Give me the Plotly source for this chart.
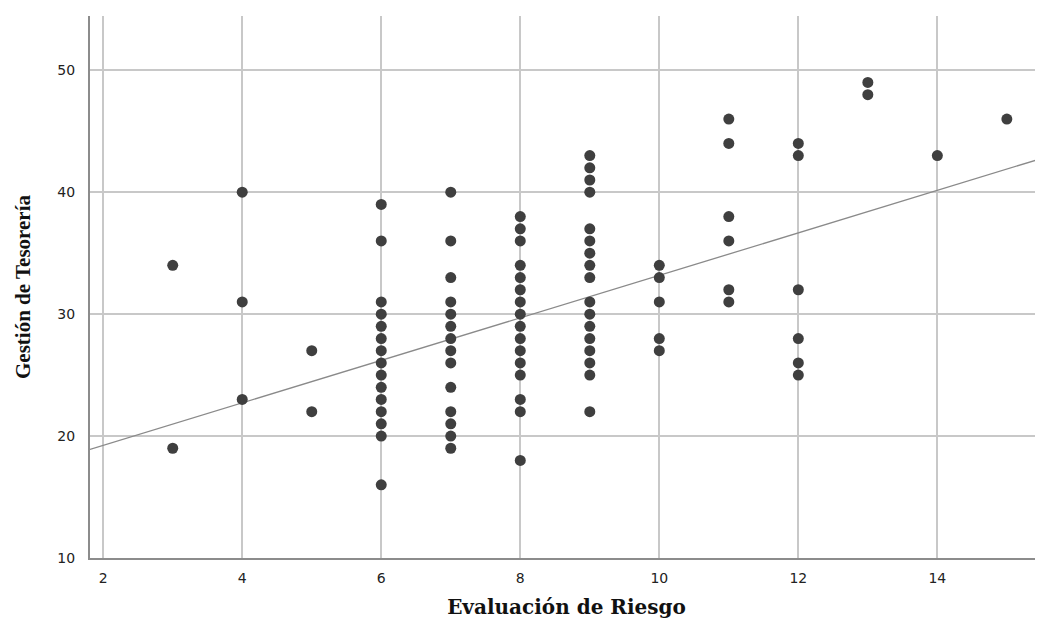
import plotly.graph_objects as go

# Data (Evaluación de Riesgo vs Gestión de Tesorería)
x_levels = [3, 4, 5, 6, 7, 8, 9, 10, 11, 12, 13, 14, 15]
y_groups = [
    [34, 19],
    [40, 31, 23],
    [27, 22],
    [39, 36, 31, 30, 29, 28, 27, 26, 25, 24, 23, 22, 21, 20, 16],
    [40, 36, 33, 31, 30, 29, 28, 27, 26, 24, 22, 21, 20, 19],
    [38, 37, 36, 34, 33, 32, 31, 30, 29, 28, 27, 26, 25, 23, 22, 18],
    [43, 42, 41, 40, 37, 36, 35, 34, 33, 31, 30, 29, 28, 27, 26, 25, 22],
    [34, 33, 31, 28, 27],
    [46, 44, 38, 36, 32, 31],
    [44, 43, 32, 28, 26, 25],
    [49, 48],
    [43],
    [46],
]
# Fit line as drawn in the reference
fit_intercept = 15.75
fit_slope = 1.743

x_ticks = [2, 4, 6, 8, 10, 12, 14]
y_ticks = [10, 20, 30, 40, 50]
x_title = "Evaluación de Riesgo"
y_title = "Gestión de Tesorería"

xs = []
ys = []
for xv, grp in zip(x_levels, y_groups):
    for yv in grp:
        xs.append(xv)
        ys.append(yv)

x_range = [1.81, 15.52]
y_range = [10, 54.45]

line_x = list(x_range)
line_y = [fit_intercept + fit_slope * v for v in line_x]

fig = go.Figure()
fig.add_trace(go.Scatter(
    x=line_x, y=line_y, mode="lines",
    line=dict(color="#8a8a8a", width=1.3),
    hoverinfo="skip", showlegend=False,
))
fig.add_trace(go.Scatter(
    x=xs, y=ys, mode="markers",
    marker=dict(color="#3f3f3f", size=11, line=dict(width=0)),
    showlegend=False,
))

tick_font = dict(family="DejaVu Sans", size=14, color="#222222")
fig.update_layout(
    width=1043, height=614,
    margin=dict(l=82, r=8, t=8, b=64),
    paper_bgcolor="white", plot_bgcolor="white",
    xaxis=dict(
        range=x_range, tickvals=x_ticks, ticks="", tickfont=tick_font,
        showgrid=True, gridcolor="#c8c8c8", gridwidth=1.5,
        showline=True, linecolor="#8c8c8c", linewidth=2,
        zeroline=False, automargin=False, ticklabelstandoff=6,
        title=dict(text="<b>" + x_title + "</b>",
                   font=dict(family="DejaVu Serif", size=20, color="#111111")),
    ),
    yaxis=dict(
        range=y_range, tickvals=y_ticks, ticks="", tickfont=tick_font,
        showgrid=True, gridcolor="#c8c8c8", gridwidth=1.5,
        showline=True, linecolor="#8c8c8c", linewidth=2,
        zeroline=False, automargin=False, ticklabelstandoff=10,
        title=dict(text="<b>" + y_title + "</b>", standoff=21,
                   font=dict(family="Liberation Serif", size=21, color="#111111")),
    ),
)

fig.write_html("out.html")
